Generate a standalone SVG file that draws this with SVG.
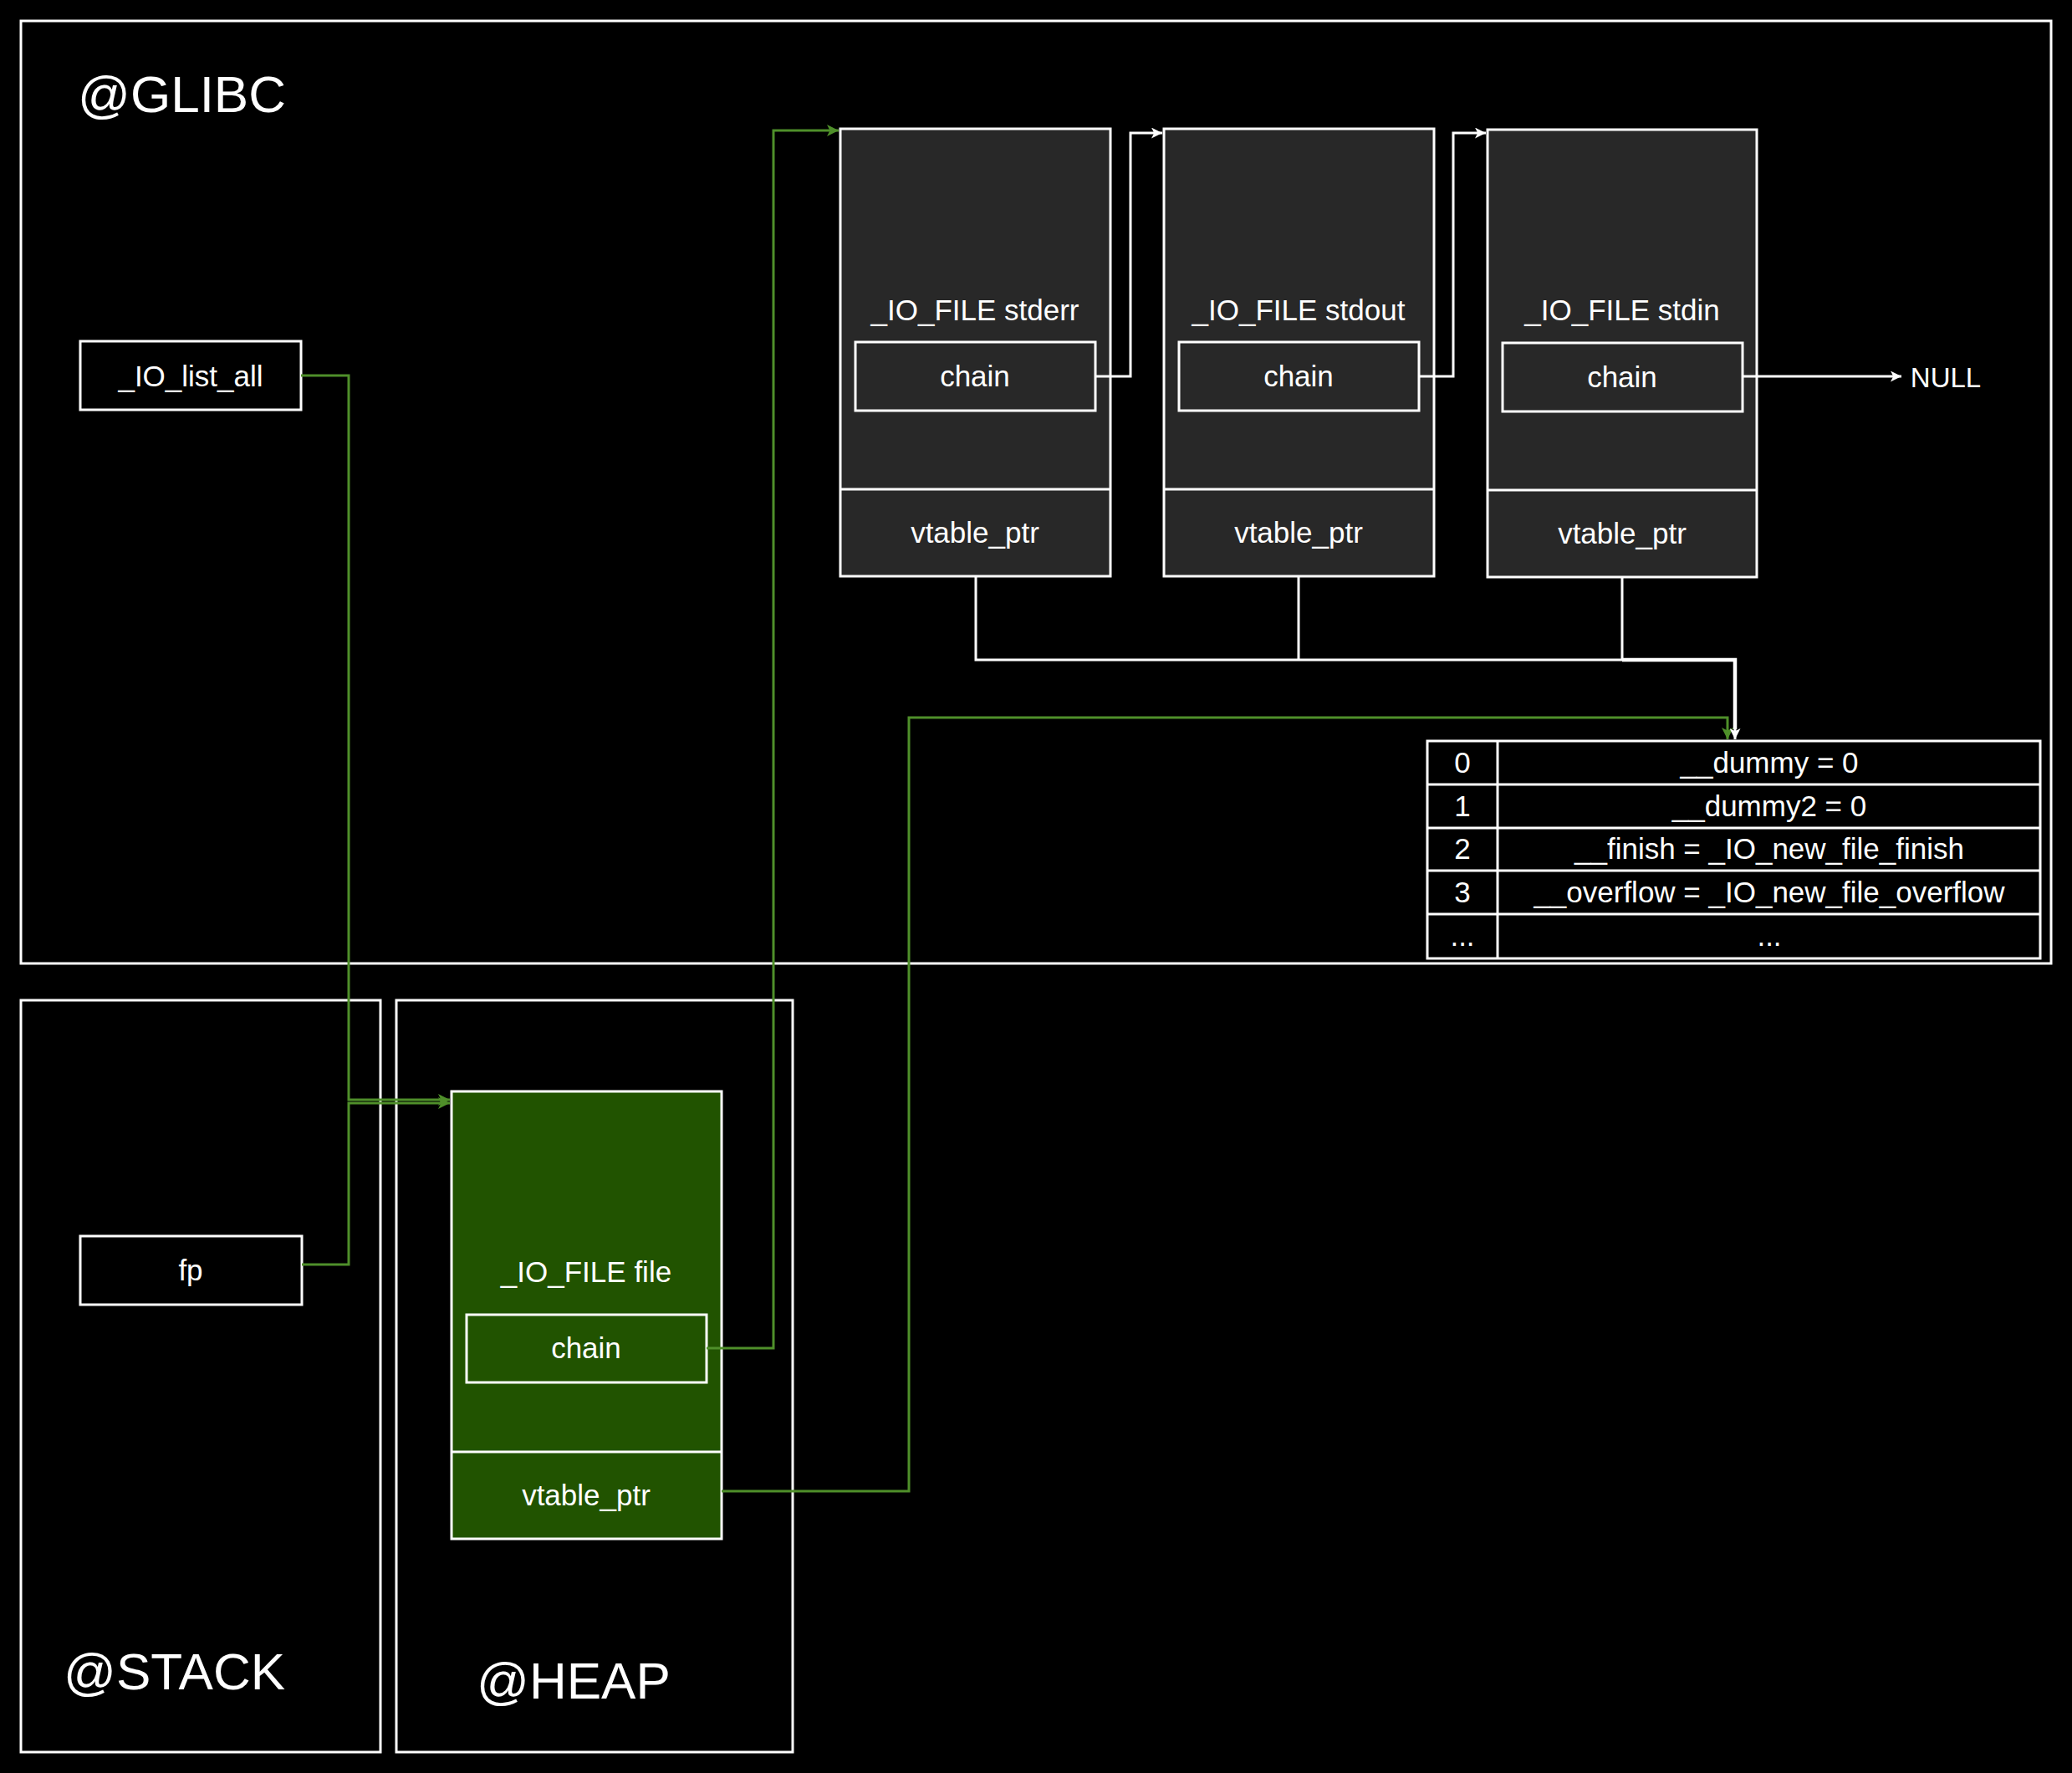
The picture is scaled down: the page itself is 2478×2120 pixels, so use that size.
<svg xmlns="http://www.w3.org/2000/svg" width="2478" height="2120" viewBox="0 0 2478 2120">
<style>
text{font-family:"Liberation Sans",Arial,sans-serif;fill:#ffffff;text-anchor:middle;font-size:35px}
.title{font-size:62px;text-anchor:start}
.region{fill:none;stroke:#ffffff;stroke-width:3}
.box{fill:#000000;stroke:#ffffff;stroke-width:3}
.gray{fill:#282828;stroke:#ffffff;stroke-width:3}
.green{fill:#215300;stroke:#ffffff;stroke-width:3}
.w{fill:none;stroke:#ffffff;stroke-width:3}
.wb{fill:none;stroke:#ffffff;stroke-width:4.5}
.g{fill:none;stroke:#4f8f2a;stroke-width:3}
</style>
<defs>
<marker id="aw" viewBox="0 0 10 10" refX="10" refY="5" markerWidth="18" markerHeight="13" markerUnits="userSpaceOnUse" orient="auto">
<path d="M0,0 L10,5 L0,10 L2.5,5 z" fill="#ffffff"/>
</marker>
<marker id="ag" viewBox="0 0 10 10" refX="10" refY="5" markerWidth="20" markerHeight="14" markerUnits="userSpaceOnUse" orient="auto">
<path d="M0,0 L10,5 L0,10 L2.5,5 z" fill="#4f8f2a"/>
</marker>
</defs>
<rect width="2478" height="2120" fill="#000000"/>

<g id="region-glibc">
<rect class="region" x="25" y="25" width="2428" height="1127"/>
<text class="title" x="93" y="134">@GLIBC</text>
</g>
<g id="region-stack">
<rect class="region" x="25" y="1196" width="430" height="899"/>
<text class="title" x="76" y="2020">@STACK</text>
</g>
<g id="region-heap">
<rect class="region" x="474" y="1196" width="474" height="899"/>
<text class="title" x="570" y="2031">@HEAP</text>
</g>

<g id="io-list-all">
<rect class="box" x="96" y="408" width="264" height="82"/>
<text x="228" y="462">_IO_list_all</text>
</g>

<g id="stderr">
<rect class="gray" x="1005" y="154" width="323" height="535"/>
<line class="w" x1="1005" y1="585" x2="1328" y2="585"/>
<text x="1166" y="383">_IO_FILE stderr</text>
<rect class="gray" x="1023" y="409" width="287" height="82"/>
<text x="1166" y="462">chain</text>
<text x="1166" y="649">vtable_ptr</text>
</g>

<g id="stdout">
<rect class="gray" x="1392" y="154" width="323" height="535"/>
<line class="w" x1="1392" y1="585" x2="1715" y2="585"/>
<text x="1553" y="383">_IO_FILE stdout</text>
<rect class="gray" x="1410" y="409" width="287" height="82"/>
<text x="1553" y="462">chain</text>
<text x="1553" y="649">vtable_ptr</text>
</g>

<g id="stdin">
<rect class="gray" x="1779" y="155" width="322" height="535"/>
<line class="w" x1="1779" y1="586" x2="2101" y2="586"/>
<text x="1940" y="383">_IO_FILE stdin</text>
<rect class="gray" x="1797" y="410" width="287" height="82"/>
<text x="1940" y="463">chain</text>
<text x="1940" y="650">vtable_ptr</text>
</g>

<g id="null">
<text x="2327" y="463" style="font-size:33px">NULL</text>
</g>

<g id="vtable">
<rect class="box" x="1707" y="886" width="733" height="260"/>
<line class="w" x1="1791" y1="886" x2="1791" y2="1146"/>
<line class="w" x1="1707" y1="938" x2="2440" y2="938"/>
<line class="w" x1="1707" y1="990" x2="2440" y2="990"/>
<line class="w" x1="1707" y1="1041" x2="2440" y2="1041"/>
<line class="w" x1="1707" y1="1093" x2="2440" y2="1093"/>
<text x="1749" y="924">0</text>
<text x="2116" y="924">__dummy = 0</text>
<text x="1749" y="976">1</text>
<text x="2116" y="976">__dummy2 = 0</text>
<text x="1749" y="1027">2</text>
<text x="2116" y="1027">__finish = _IO_new_file_finish</text>
<text x="1749" y="1079">3</text>
<text x="2116" y="1079">__overflow = _IO_new_file_overflow</text>
<text x="1749" y="1131">...</text>
<text x="2116" y="1131">...</text>
</g>

<g id="fp">
<rect class="box" x="96" y="1478" width="265" height="82"/>
<text x="228" y="1531">fp</text>
</g>

<g id="heap-file">
<rect class="green" x="540" y="1305" width="323" height="535"/>
<line class="w" x1="540" y1="1736" x2="863" y2="1736"/>
<text x="701" y="1533">_IO_FILE file</text>
<rect class="green" x="558" y="1572" width="287" height="81"/>
<text x="701" y="1624">chain</text>
<text x="701" y="1800">vtable_ptr</text>
</g>

<g id="connectors">
<path class="g" d="M360,449 H417 V1315 H538" marker-end="url(#ag)"/>
<path class="g" d="M361,1512 H417 V1319 H538" marker-end="url(#ag)"/>
<path class="g" d="M845,1612 H925 V156 H1003" marker-end="url(#ag)"/>
<path class="g" d="M863,1783 H1087 V858 H2066 V884" marker-end="url(#ag)"/>
<path class="w" d="M1310,450 H1352 V159 H1390" marker-end="url(#aw)"/>
<path class="w" d="M1697,450 H1738 V159 H1777" marker-end="url(#aw)"/>
<path class="w" d="M2084,450 H2274" marker-end="url(#aw)"/>
<path class="w" d="M1167,689 V789 H1940"/>
<path class="w" d="M1553,689 V789"/>
<path class="w" d="M1940,690 V789"/>
<path class="wb" d="M1940,789 H2075 V872"/>
<path class="w" d="M2075,870 V884" marker-end="url(#aw)"/>
</g>
</svg>
